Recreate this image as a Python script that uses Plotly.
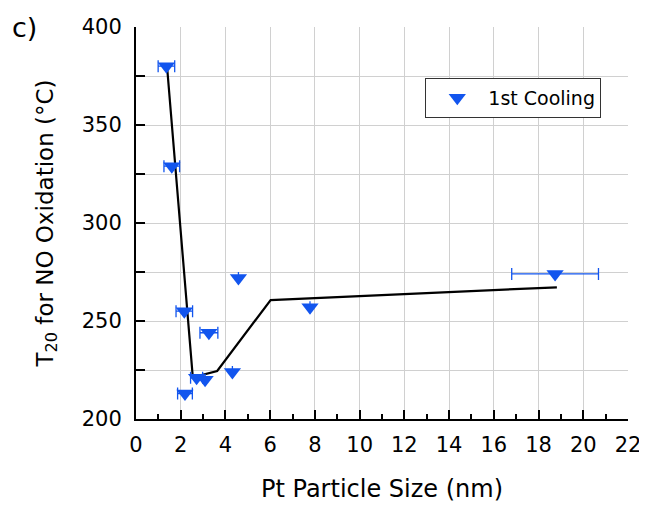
import plotly.graph_objects as go

# Data (Pt particle size in nm, T20 in °C)
size_nm = [1.36, 1.60, 2.16, 2.19, 2.71, 3.09, 3.26, 4.31, 4.58, 7.78, 18.74]
t20_c = [380, 329, 255, 213, 221, 220, 244, 224, 272, 257, 274]
size_err = [0.37, 0.35, 0.37, 0.33, 0.27, 0.0, 0.40, 0.0, 0.0, 0.0, 1.94]

trend_x = [1.38, 2.54, 3.63, 6.02, 18.82]
trend_y = [381, 221.3, 224.5, 260.7, 267.2]

blue = "#1255EE"
font_family = "DejaVu Sans, Liberation Sans, Arial, sans-serif"

fig = go.Figure()
fig.add_trace(go.Scatter(
    x=trend_x, y=trend_y, mode="lines",
    line=dict(color="black", width=2.2),
    showlegend=False, hoverinfo="skip"))
fig.add_trace(go.Scatter(
    x=size_nm, y=t20_c, mode="markers", name="1st Cooling",
    marker=dict(symbol="triangle-down", size=15, color=blue, line=dict(width=0)),
    error_x=dict(type="data", array=size_err, visible=True, color=blue,
                 thickness=1.3, width=6)))

axis_common = dict(
    showline=True, linecolor="black", linewidth=2,
    ticks="inside", tickcolor="black", tickwidth=2, ticklen=9,
    showgrid=True, gridcolor="#d0d0d0", gridwidth=1,
    zeroline=False, mirror=False, automargin=False,
    tickfont=dict(family=font_family, size=21, color="black"),
)

fig.update_xaxes(
    range=[0, 22], tickmode="linear", tick0=0, dtick=2,
    ticklabelstandoff=6,
    minor=dict(ticks="inside", dtick=1, ticklen=5, tickwidth=2, tickcolor="black", showgrid=False),
    title=dict(text="Pt Particle Size (nm)", font=dict(family=font_family, size=24, color="black"), standoff=24),
    **axis_common)
fig.update_yaxes(
    range=[200, 400], tickmode="linear", tick0=200, dtick=50,
    ticklabelstandoff=8,
    minor=dict(ticks="inside", dtick=25, ticklen=9, tickwidth=2, tickcolor="black",
               showgrid=True, gridcolor="#d0d0d0", gridwidth=1),
    title=dict(text="T<sub>20</sub> for NO Oxidation (°C)", font=dict(family=font_family, size=23, color="black"), standoff=22),
    **axis_common)

fig.add_annotation(text="c)", xref="paper", yref="paper", x=-0.256, y=1.0,
                   xanchor="left", yanchor="middle", showarrow=False,
                   font=dict(family=font_family, size=27, color="black"))

# page has an 8px body margin, so the figure is sized to fill 647x506 from there
fig.update_layout(
    width=639, height=498,
    margin=dict(l=128, r=19, t=19, b=87),
    plot_bgcolor="white", paper_bgcolor="white",
    font=dict(family=font_family, color="black"),
    legend=dict(x=0.588, y=0.87, xanchor="left", yanchor="top",
                bgcolor="white", bordercolor="#333333", borderwidth=1,
                font=dict(family=font_family, size=19, color="black"),
                itemwidth=52),
)

fig.write_html("out.html")
